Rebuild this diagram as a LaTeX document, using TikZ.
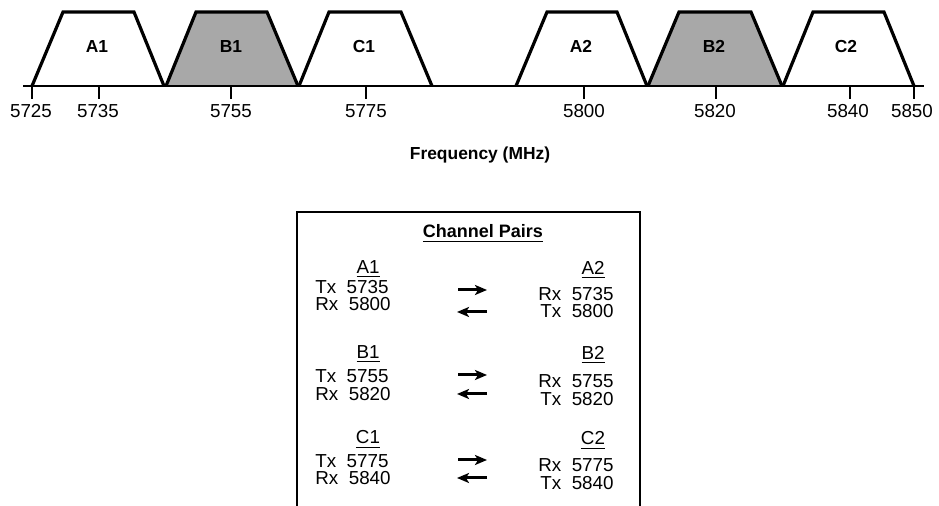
\documentclass[tikz,border=0pt]{standalone}
\usepackage{fontspec}
\setmainfont{Liberation Sans}
\usepackage{xcolor}
\usepackage{tikz}
\usetikzlibrary{arrows.meta, calc, positioning}
\definecolor{bandgray}{gray}{0.66}

\begin{document}
\begin{tikzpicture}[
x=0.5pt, y=-0.5pt,
texts/.style = {text=black, inner sep=0pt, font=\fontsize{9.4}{11}\selectfont},
boldtexts/.style = {texts, font=\fontsize{8.7}{10}\selectfont\bfseries},
titletexts/.style = {texts, font=\fontsize{9}{11}\selectfont\bfseries},
bandline/.style = {draw=black, line width=1.6pt, line join=miter},
plainband/.style = {fill=white},
shadedband/.style = {fill=bandgray},
axisline/.style = {draw=black, line width=0.6pt},
boxline/.style = {draw=black, line width=1.2pt},
pairarrow/.style = {draw=black, line width=1.5pt, -{Stealth[length=6pt, width=5pt, inset=1.5pt]}}
]
\useasboundingbox (0,0) rectangle (939,506);

% band fills
\fill[plainband]  (32,86) -- (63,12) -- (134,12) -- (164,86) -- cycle;
\fill[shadedband] (166,86) -- (196,12) -- (267,12) -- (298,86) -- cycle;
\fill[plainband]  (299,86) -- (329,12) -- (401,12) -- (432,86) -- cycle;
\fill[plainband]  (516,86) -- (547,12) -- (617,12) -- (647,86) -- cycle;
\fill[shadedband] (648,86) -- (679,12) -- (751,12) -- (782,86) -- cycle;
\fill[plainband]  (783,86) -- (813,12) -- (884,12) -- (914,86) -- cycle;

% axis and ticks
\draw[axisline] (23,86) -- (924,86);
\draw[axisline] (32,86) -- (32,99);
\draw[axisline] (99,86) -- (99,99);
\draw[axisline] (231,86) -- (231,99);
\draw[axisline] (366,86) -- (366,99);
\draw[axisline] (584,86) -- (584,99);
\draw[axisline] (716,86) -- (716,99);
\draw[axisline] (850,86) -- (850,99);
\draw[axisline] (914,86) -- (914,99);

% band outlines
\draw[bandline] (32,86) -- (63,12) -- (134,12) -- (164,86);
\draw[bandline] (166,86) -- (196,12) -- (267,12) -- (298,86);
\draw[bandline] (299,86) -- (329,12) -- (401,12) -- (432,86);
\draw[bandline] (516,86) -- (547,12) -- (617,12) -- (647,86);
\draw[bandline] (648,86) -- (679,12) -- (751,12) -- (782,86);
\draw[bandline] (783,86) -- (813,12) -- (884,12) -- (914,86);

\node[boldtexts, anchor=base] (bandA1) at (97,53) {A1};
\node[boldtexts, anchor=base] (bandB1) at (231,53) {B1};
\node[boldtexts, anchor=base] (bandC1) at (364,53) {C1};
\node[boldtexts, anchor=base] (bandA2) at (581,53) {A2};
\node[boldtexts, anchor=base] (bandB2) at (714,53) {B2};
\node[boldtexts, anchor=base] (bandC2) at (846,53) {C2};

\node[texts, anchor=base] (f5725) at (31,118) {5725};
\node[texts, anchor=base] (f5735) at (98,118) {5735};
\node[texts, anchor=base] (f5755) at (231,118) {5755};
\node[texts, anchor=base] (f5775) at (366,118) {5775};
\node[texts, anchor=base] (f5800) at (584,118) {5800};
\node[texts, anchor=base] (f5820) at (715,118) {5820};
\node[texts, anchor=base] (f5840) at (848,118) {5840};
\node[texts, anchor=base] (f5850) at (912,118) {5850};
\node[boldtexts, anchor=base] (freq) at (480,160) {Frequency (MHz)};

% channel pair box
\draw[boxline] (297,510) -- (297,212) -- (640,212) -- (640,510);
\node[titletexts, anchor=base] (pairs) at (483,238) {\underline{Channel Pairs}};

\node[texts, anchor=base] (hdrA1) at (368,274) {\underline{A1}};
\node[texts, anchor=base west] (txA1) at (315,294) {Tx~~5735};
\node[texts, anchor=base west] (rxA1) at (315,311) {Rx~~5800};
\node[texts, anchor=base] (hdrA2) at (593,275) {\underline{A2}};
\node[texts, anchor=base east] (rxA2) at (614,301) {Rx~~5735};
\node[texts, anchor=base east] (txA2) at (614,318) {Tx~~5800};
\coordinate (goA1) at (458,290);
\coordinate (goA2) at (487,290);
\coordinate (backA2) at (487,312);
\coordinate (backA1) at (457,312);
\draw[pairarrow] (goA1) -- (goA2);
\draw[pairarrow] (backA2) -- (backA1);

\node[texts, anchor=base] (hdrB1) at (368,359) {\underline{B1}};
\node[texts, anchor=base west] (txB1) at (315,383) {Tx~~5755};
\node[texts, anchor=base west] (rxB1) at (315,401) {Rx~~5820};
\node[texts, anchor=base] (hdrB2) at (593,360) {\underline{B2}};
\node[texts, anchor=base east] (rxB2) at (614,388) {Rx~~5755};
\node[texts, anchor=base east] (txB2) at (614,406) {Tx~~5820};
\coordinate (goB1) at (458,375);
\coordinate (goB2) at (487,375);
\coordinate (backB2) at (487,394);
\coordinate (backB1) at (457,394);
\draw[pairarrow] (goB1) -- (goB2);
\draw[pairarrow] (backB2) -- (backB1);

\node[texts, anchor=base] (hdrC1) at (368,444) {\underline{C1}};
\node[texts, anchor=base west] (txC1) at (315,468) {Tx~~5775};
\node[texts, anchor=base west] (rxC1) at (315,485) {Rx~~5840};
\node[texts, anchor=base] (hdrC2) at (593,445) {\underline{C2}};
\node[texts, anchor=base east] (rxC2) at (614,472) {Rx~~5775};
\node[texts, anchor=base east] (txC2) at (614,490) {Tx~~5840};
\coordinate (goC1) at (458,460);
\coordinate (goC2) at (487,460);
\coordinate (backC2) at (487,478);
\coordinate (backC1) at (457,478);
\draw[pairarrow] (goC1) -- (goC2);
\draw[pairarrow] (backC2) -- (backC1);
\end{tikzpicture}
\end{document}
